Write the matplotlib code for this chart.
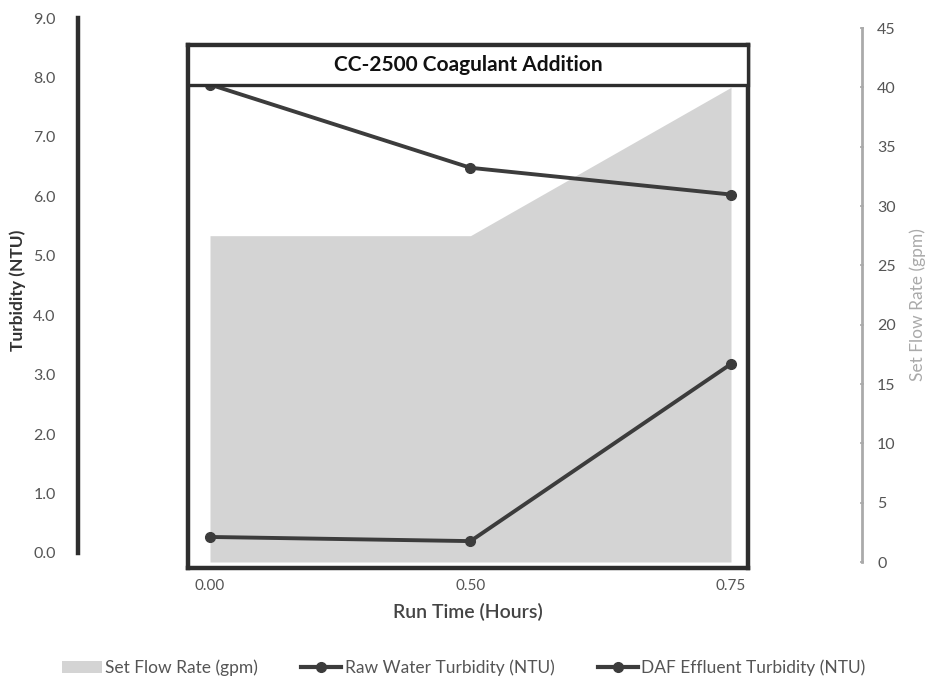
import matplotlib
matplotlib.use("Agg")
import matplotlib.pyplot as plt
from matplotlib.patches import Rectangle, Patch
from matplotlib.lines import Line2D

plt.rcParams['font.family'] = ['Lato', 'DejaVu Sans']

# ---- data ----
run_time = ["0.00", "0.50", "0.75"]
flow_rate = [27.5, 27.5, 40.0]          # Set Flow Rate (gpm), right axis
raw_turbidity = [7.88, 6.48, 6.03]      # Raw Water Turbidity (NTU)
daf_turbidity = [0.27, 0.20, 3.18]      # DAF Effluent Turbidity (NTU)
left_ticks = [0, 1, 2, 3, 4, 5, 6, 7, 8, 9]
right_ticks = [0, 5, 10, 15, 20, 25, 30, 35, 40, 45]

W, H = 929, 684
fig = plt.figure(figsize=(W / 100, H / 100), dpi=100)

def fx(px):
    return px / W

def fy(py):
    return 1 - py / H

dark = "#2e2e2e"
line_col = "#3c3c3c"
area_col = "#d4d4d4"

# main plot box: x 188..748, y 45..568 px
ax = fig.add_axes([fx(188), fy(568), fx(748) - fx(188), fy(45) - fy(568)])
xpos = list(range(len(run_time)))
ax.set_xlim(-22 / 260.5, 2 + 17 / 260.5)
ppu_left = (553 - 18) / 9.0
ax.set_ylim(-(568 - 553) / ppu_left, (553 - 45) / ppu_left)

ax2 = ax.twinx()
ppu_right = (562 - 28) / 45.0
ax2.set_ylim(-(568 - 562) / ppu_right, (562 - 45) / ppu_right)
ax2.fill_between(xpos, 0, flow_rate, color=area_col, linewidth=0, zorder=1)
ax2.set_yticks([])
for s in ax2.spines.values():
    s.set_visible(False)

ax.set_zorder(ax2.get_zorder() + 1)
ax.patch.set_visible(False)

ax.plot(xpos, raw_turbidity, color=line_col, lw=2.8, marker="o", ms=7, zorder=3)
ax.plot(xpos, daf_turbidity, color=line_col, lw=2.8, marker="o", ms=7, zorder=3)

ax.set_yticks([])
ax.set_xticks(xpos)
ax.set_xticklabels(run_time, fontsize=11, color="#555555")
ax.tick_params(axis="x", length=0, pad=8)
for s in ax.spines.values():
    s.set_linewidth(3.2)
    s.set_color(dark)
ax.set_xlabel("Run Time (Hours)", fontsize=14, color="#444444",
              fontweight="semibold", labelpad=7)

# title box inside top of frame
ax.add_patch(Rectangle((0.0, 1 - 40 / 523), 1.0, 40 / 523, transform=ax.transAxes,
                       facecolor="white", edgecolor=dark, lw=2.4, zorder=5,
                       clip_on=False))
ax.text(0.5, 1 - 20 / 523, "CC-2500 Coagulant Addition", transform=ax.transAxes,
        ha="center", va="center", fontsize=15, fontweight="bold",
        color="#111111", zorder=6)

# left axis (separate line)
axl = fig.add_axes([fx(78), fy(553), 0.0005, fy(18) - fy(553)])
axl.set_ylim(0, 9)
axl.set_xticks([])
axl.set_yticks(left_ticks)
axl.set_yticklabels([f"{v:.1f}" for v in left_ticks], fontsize=11.5, color="#555555")
axl.tick_params(axis="y", length=0, pad=16)
for k, s in axl.spines.items():
    s.set_visible(k == "left")
axl.spines["left"].set_linewidth(3.2)
axl.spines["left"].set_color(dark)
axl.patch.set_visible(False)
fig.text(fx(18), fy(290), "Turbidity (NTU)", rotation=90, ha="center", va="center",
         fontsize=12.5, fontweight="bold", color="#333333")

# right axis (separate line)
axr = fig.add_axes([fx(862), fy(562), 0.0005, fy(28) - fy(562)])
axr.set_ylim(0, 45)
axr.set_xticks([])
axr.yaxis.tick_right()
axr.set_yticks(right_ticks)
axr.set_yticklabels([str(v) for v in right_ticks], fontsize=11.5, color="#555555")
axr.tick_params(axis="y", length=3, width=1.2, color="#aaaaaa", pad=9, direction="inout")
for k, s in axr.spines.items():
    s.set_visible(k == "right")
axr.spines["right"].set_linewidth(2.0)
axr.spines["right"].set_color("#aaaaaa")
axr.patch.set_visible(False)
fig.text(fx(918), fy(305), "Set Flow Rate (gpm)", rotation=90, ha="center", va="center",
         fontsize=12.5, color="#aaaaaa")

# legend
handles = [
    Patch(facecolor=area_col, edgecolor="none"),
    Line2D([], [], color=line_col, lw=3, marker="o", ms=7),
    Line2D([], [], color=line_col, lw=3, marker="o", ms=7),
]
labels = ["Set Flow Rate (gpm)", "Raw Water Turbidity (NTU)", "DAF Effluent Turbidity (NTU)"]
fig.legend(handles, labels, loc="center", bbox_to_anchor=(0.499, fy(668)), ncol=3,
           frameon=False, fontsize=12.5, labelcolor="#555555", handlelength=2.3,
           handletextpad=0.2, columnspacing=2.5, numpoints=1)

fig.savefig("out.png", dpi=100)
